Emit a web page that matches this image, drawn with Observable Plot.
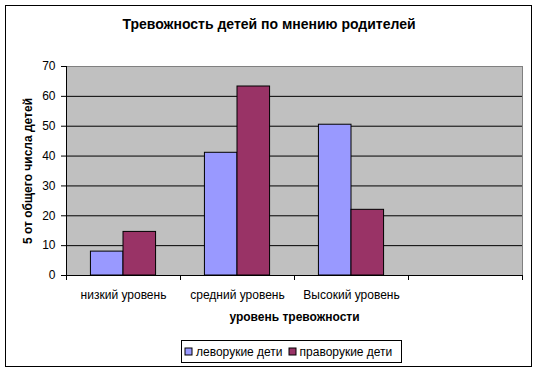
<!DOCTYPE html>
<html>
<head>
<meta charset="utf-8">
<script src="https://cdn.jsdelivr.net/npm/d3@7"></script>
<script src="https://cdn.jsdelivr.net/npm/@observablehq/plot@0.6"></script>
<style>
  html, body { margin: 0; padding: 0; background: #fff; }
  #wrap { position: relative; width: 538px; height: 373px; font-family: "Liberation Sans", Arial, sans-serif; color: #000; }
  #wrap > svg { position: absolute; left: 0; top: 0; }
  #border { position: absolute; left: 5px; top: 5px; width: 527px; height: 362px; box-sizing: border-box; border: 1px solid #000; pointer-events: none; }
  #title { position: absolute; left: 0; top: 16px; width: 538px; text-align: center; font-weight: bold; font-size: 14px; line-height: 16px; }
  #legend { position: absolute; left: 181px; top: 340px; width: 221px; height: 23px; box-sizing: border-box; border: 1px solid #000; background: #fff; display: flex; align-items: center; padding-left: 3px; }
  #legend > div { margin: 0 !important; min-height: 0 !important; font-family: "Liberation Sans", Arial, sans-serif !important; font-size: 12px !important; color: #000 !important; display: flex !important; align-items: center !important; flex-wrap: nowrap !important; }
  #legend span { margin-right: 6px !important; white-space: nowrap; display: inline-flex !important; align-items: center !important; }
  #legend svg { margin-right: 4px !important; overflow: visible !important; }
  #legend svg rect { stroke: #000; stroke-width: 1px; }
</style>
</head>
<body>
<div id="wrap">
  <div id="title"></div>
  <div id="border"></div>
  <div id="legend"></div>
</div>
<script>
const titleText = "Тревожность детей по мнению родителей";
const yLabel = "5 от общего числа детей";
const xLabel = "уровень тревожности";
const categories = ["низкий уровень", "средний уровень", "Высокий уровень", ""];
const series = ["леворукие дети", "праворукие дети"];
const leftHanded = [8, 41.1, 50.5];
const rightHanded = [14.6, 63.3, 22];
const colors = ["#9999FF", "#993366"];
const yTicks = [0, 10, 20, 30, 40, 50, 60, 70];

const gap = 1.5; // Excel gap width 150%
const barW = 1 / (series.length + gap);
const rows = [];
[leftHanded, rightHanded].forEach((vals, s) => vals.forEach((v, i) => {
  const x1 = i + (gap / 2 + s) * barW;
  rows.push({category: categories[i], series: series[s], value: v, x1, x2: x1 + barW});
}));

const plot = Plot.plot({
  width: 538,
  height: 373,
  marginLeft: 66,
  marginRight: 16,
  marginTop: 66,
  marginBottom: 98,
  style: {fontFamily: "'Liberation Sans', Arial, sans-serif", fontSize: "12px", color: "#000", background: "transparent", overflow: "visible"},
  x: {type: "linear", domain: [0, categories.length], axis: null},
  y: {domain: [0, 70], axis: null},
  color: {domain: series, range: colors},
  marks: [
    Plot.frame({fill: "#c0c0c0", stroke: "#808080"}),
    Plot.gridY(yTicks.filter(t => t > 0 && t < 70), {stroke: "#000", strokeOpacity: 1}),
    Plot.rect(rows, {x1: "x1", x2: "x2", y1: 0, y2: "value", fill: "series", stroke: "#000", strokeWidth: 1}),
    Plot.ruleY([0], {stroke: "#000"}),
    Plot.frame({anchor: "left", stroke: "#000"}),
    Plot.axisY({ticks: yTicks, tickSize: 5, tickPadding: 6, label: null, stroke: "#000", fill: "#000", fontSize: 12}),
    Plot.axisX({ticks: d3.range(categories.length + 1), tickSize: 5, tickFormat: () => "", label: null, stroke: "#000"}),
    Plot.axisX({ticks: categories.map((_, i) => i + 0.5), tickFormat: t => categories[Math.floor(t)], tickSize: 0, tickPadding: 15, label: null, fill: "#000", fontSize: 12}),
    Plot.text([yLabel], {frameAnchor: "left", textAnchor: "middle", rotate: -90, dx: -38, fontWeight: "bold", fontSize: 12, fill: "#000"}),
    Plot.text([xLabel], {frameAnchor: "bottom", textAnchor: "middle", dy: 45, fontWeight: "bold", fontSize: 12, fill: "#000"})
  ]
});

const wrap = document.getElementById("wrap");
wrap.insertBefore(plot, wrap.firstChild);
document.getElementById("title").textContent = titleText;
document.getElementById("legend").appendChild(plot.legend("color", {swatchSize: 7}));
</script>
</body>
</html>
